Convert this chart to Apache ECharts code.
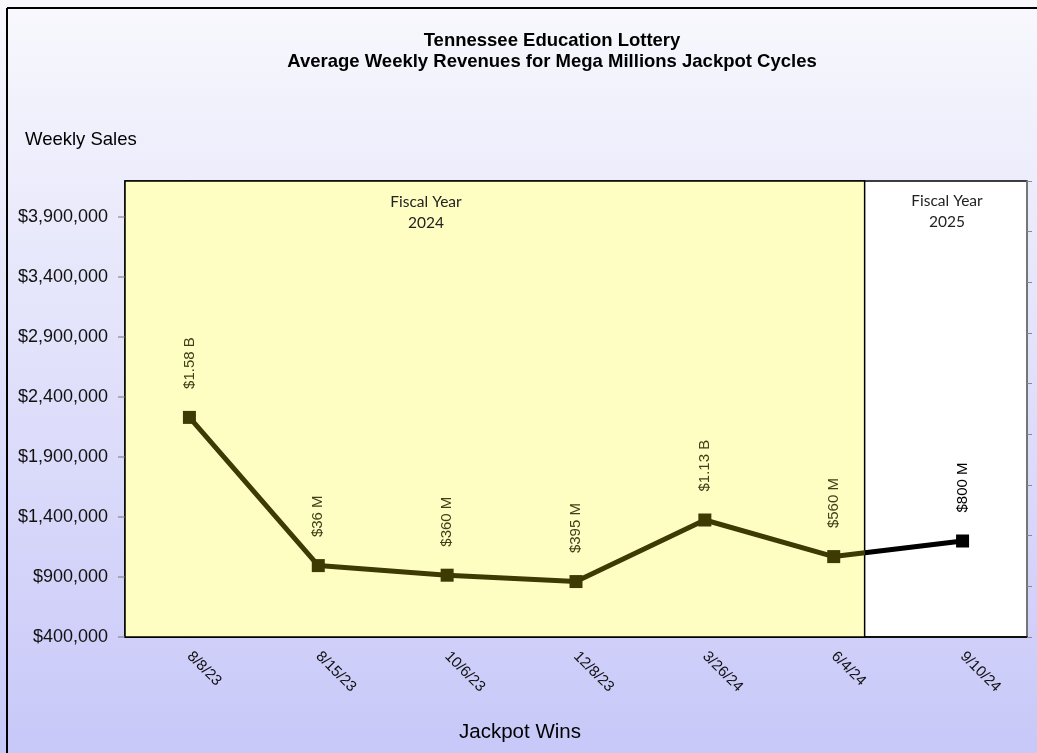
<!DOCTYPE html>
<html>
<head>
<meta charset="utf-8">
<title>Tennessee Education Lottery - Mega Millions Jackpot Cycles</title>
<script src="https://cdn.jsdelivr.net/npm/echarts@6/dist/echarts.min.js"></script>
<style>
  html, body { margin: 0; padding: 0; }
  #chart { width: 1037px; height: 753px; }
</style>
</head>
<body>
<div id="chart"></div>
<script>
// Jackpot win dates (one jackpot cycle each)
const categories = ['8/8/23', '8/15/23', '10/6/23', '12/8/23', '3/26/24', '6/4/24', '9/10/24'];
// Average weekly sales for each cycle
const weeklySales = [2230000, 995000, 915000, 862000, 1375000, 1070000, 1200000];
// Jackpot amount won at the end of each cycle
const jackpotLabels = ['$1.58 B', '$36 M', '$360 M', '$395 M', '$1.13 B', '$560 M', '$800 M'];
// Left axis tick values
const yTickValues = [400000, 900000, 1400000, 1900000, 2400000, 2900000, 3400000, 3900000];
// Fiscal year captions
const fiscalYearLabels = ['Fiscal Year\n2024', 'Fiscal Year\n2025'];
// FY2024 / FY2025 split, in category units between 6/4/24 and 9/10/24
const fiscalSplit = 5.24;

const FY24_COLOR = '#3d3a04';
const FY25_COLOR = '#000000';
const FONT = '"Liberation Sans", Arial, sans-serif';
const FY_FONT = 'Lato, "Noto Sans", sans-serif';

const chart = echarts.init(document.getElementById('chart'), null, { renderer: 'canvas' });

const GRID = { left: 125, right: 10, top: 181, bottom: 116 };
const yMin = 400000, yMax = 4200000;

const inFY24 = i => i < fiscalSplit;

const seriesData = weeklySales.map((v, i) => ({
  value: v,
  itemStyle: { color: inFY24(i) ? FY24_COLOR : FY25_COLOR },
  label: {
    formatter: jackpotLabels[i],
    color: inFY24(i) ? '#3f3f1a' : '#000'
  }
}));

const baseGraphics = [
  {
    type: 'rect', z: -10, silent: true,
    shape: { x: 0, y: 0, width: 1037, height: 753 },
    style: {
      fill: new echarts.graphic.LinearGradient(0, 0, 0, 1, [
        { offset: 0, color: '#f8f8fd' },
        { offset: 1, color: '#c8c8f9' }
      ])
    }
  },
  { type: 'line', z: 10, shape: { x1: 7, y1: 8, x2: 1037, y2: 8 }, style: { stroke: '#000', lineWidth: 2 } },
  { type: 'line', z: 10, shape: { x1: 7, y1: 8, x2: 7, y2: 753 }, style: { stroke: '#000', lineWidth: 2 } },
  {
    type: 'text', x: 552, y: 30, z: 10,
    style: {
      text: 'Tennessee Education Lottery\nAverage Weekly Revenues for Mega Millions Jackpot Cycles',
      font: 'bold 18.5px ' + FONT, fill: '#000', textAlign: 'center', lineHeight: 21
    }
  },
  {
    type: 'text', x: 25, y: 130, z: 10,
    style: { text: 'Weekly Sales', font: '18.5px ' + FONT, fill: '#000' }
  },
  {
    type: 'text', x: 520, y: 722, z: 10,
    style: { text: 'Jackpot Wins', font: '20.5px ' + FONT, fill: '#000', textAlign: 'center' }
  },
  {
    type: 'text', x: 426, y: 191, z: 10,
    style: { text: fiscalYearLabels[0], font: '15.5px ' + FY_FONT, fill: '#222', textAlign: 'center', lineHeight: 21 }
  },
  {
    type: 'text', x: 947, y: 190, z: 10,
    style: { text: fiscalYearLabels[1], font: '15.5px ' + FY_FONT, fill: '#222', textAlign: 'center', lineHeight: 21 }
  }
];

const option = {
  animation: false,
  graphic: baseGraphics,
  grid: {
    left: GRID.left, right: GRID.right, top: GRID.top, bottom: GRID.bottom,
    show: true, backgroundColor: '#ffffff', borderColor: '#000', borderWidth: 1.5,
    containLabel: false
  },
  xAxis: [
    {
      type: 'category',
      data: categories,
      boundaryGap: true,
      axisLine: { show: true, lineStyle: { color: '#000', width: 1.5 } },
      axisTick: { show: false },
      axisLabel: {
        rotate: -45, margin: 17, fontSize: 15, color: '#111', fontFamily: FONT, interval: 0
      },
      splitLine: { show: false }
    },
    {
      type: 'value', min: -0.5, max: 6.5, show: false
    }
  ],
  yAxis: [
    {
      type: 'value', min: yMin, max: yMax,
      position: 'left',
      axisLine: { show: true, lineStyle: { color: '#000', width: 1.5 } },
      axisTick: { show: false },
      axisLabel: {
        fontSize: 18, color: '#111', fontFamily: FONT, margin: 17,
        customValues: yTickValues,
        formatter: v => '$' + Math.round(v).toLocaleString('en-US')
      },
      splitLine: { show: false }
    },
    {
      type: 'value', min: 0, max: 9, interval: 1,
      position: 'right',
      axisLine: { show: true, lineStyle: { color: '#8a8a8a', width: 1.5 } },
      axisTick: { show: true, inside: false, length: 5, lineStyle: { color: '#8a8a8a' } },
      axisLabel: { show: false },
      splitLine: { show: false }
    }
  ],
  series: [
    {
      type: 'line',
      xAxisIndex: 0, yAxisIndex: 0,
      data: seriesData,
      symbol: 'rect', symbolSize: 13,
      lineStyle: { width: 5, color: FY24_COLOR },
      z: 5,
      label: {
        show: true, position: 'top', rotate: 90, distance: 22,
        align: 'left', verticalAlign: 'middle',
        fontSize: 15, fontFamily: FONT
      }
    },
    {
      type: 'line',
      xAxisIndex: 1, yAxisIndex: 0,
      data: [],
      silent: true,
      z: 1,
      markArea: {
        silent: true,
        itemStyle: { color: '#fefec2', borderColor: '#000', borderWidth: 1.5 },
        data: [[{ xAxis: -0.5, yAxis: yMin }, { xAxis: fiscalSplit, yAxis: yMax }]]
      }
    }
  ]
};

chart.setOption(option);

// Left axis tick marks, placed through the value axis scale
const tickGraphics = yTickValues.map(v => {
  const y = chart.convertToPixel({ yAxisIndex: 0 }, v);
  return {
    type: 'line', z: 10, silent: true,
    shape: { x1: GRID.left - 7, y1: y, x2: GRID.left, y2: y },
    style: { stroke: '#777', lineWidth: 1 }
  };
});

// Line turns black where FY2025 begins: hard colour stop at the split's pixel position
const splitPx = chart.convertToPixel({ xAxisIndex: 1 }, fiscalSplit);
const x0 = GRID.left, x1 = 1037 - GRID.right;
const t = (splitPx - x0) / (x1 - x0);
chart.setOption({
  graphic: baseGraphics.concat(tickGraphics),
  series: [{
    lineStyle: {
      color: new echarts.graphic.LinearGradient(x0, 0, x1, 0, [
        { offset: 0, color: FY24_COLOR },
        { offset: t, color: FY24_COLOR },
        { offset: t, color: FY25_COLOR },
        { offset: 1, color: FY25_COLOR }
      ], true)
    }
  }]
});
</script>
</body>
</html>
